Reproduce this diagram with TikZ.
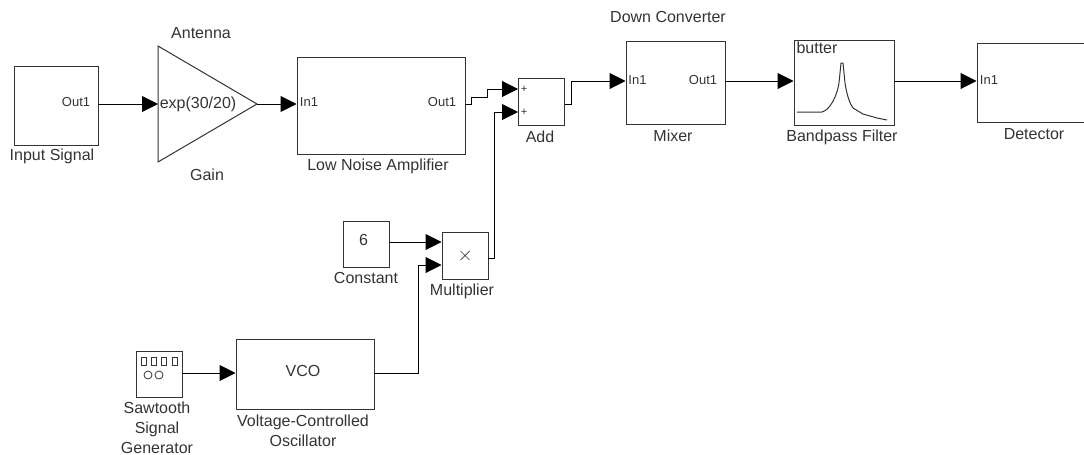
\documentclass[tikz,border=0pt]{standalone}
\usepackage{fontspec}
\setmainfont{Liberation Sans}
\usetikzlibrary{arrows.meta,shapes.geometric}
\definecolor{ink}{HTML}{333333}
\tikzset{
  blockbox/.style={draw=ink,line width=1pt,inner sep=0pt,outer sep=0pt,anchor=north west},
  wire/.style={draw=black,line width=1pt,-{Triangle[length=16pt,width=16pt]}},
  capt/.style={inner sep=0pt,font=\fontsize{16}{20}\selectfont,align=center,text=ink},
  portlabel/.style={inner sep=0pt,font=\fontsize{13}{14}\selectfont,text=ink}
}
\newcommand{\blk}[5]{\node[blockbox,minimum width=#4pt,minimum height=#5pt] (#1) at (#2,#3) {};}
\begin{document}
\begin{tikzpicture}[x=1pt,y=-1pt]
\useasboundingbox (0,0) rectangle (1084,455);
% blocks
\blk{input}{14}{66}{84}{79}
\node[draw=ink,line width=1pt,isosceles triangle,isosceles triangle stretches,shape border rotate=0,minimum width=116pt,minimum height=99pt,inner sep=0pt,outer sep=0pt,anchor=apex] (gain) at (257,104) {};
\blk{lna}{297}{57}{168}{97}
\blk{add}{518.5}{78}{46}{47}
\blk{mixer}{626}{41}{99}{83}
\blk{filter}{794}{40}{100}{85}
\blk{detector}{977}{43}{120}{79}
\blk{constant}{343}{221}{46}{46}
\blk{mult}{442}{232}{46}{47}
\blk{saw}{136}{351}{46}{46}
\blk{vco}{236}{339}{138}{70}
% ports
\coordinate (inputOut) at (98,104);
\coordinate (gainIn) at (158,104);
\coordinate (gainOut) at (257,104);
\coordinate (lnaIn) at (296.5,104);
\coordinate (lnaOut) at (465,104);
\coordinate (addInA) at (518,89);
\coordinate (addInB) at (518,112);
\coordinate (addOut) at (564.5,104);
\coordinate (mixIn) at (625.5,81);
\coordinate (mixOut) at (725,81);
\coordinate (filtIn) at (793.5,81);
\coordinate (filtOut) at (894,81);
\coordinate (detIn) at (976.5,81);
\coordinate (constOut) at (389,242);
\coordinate (multInA) at (441.5,242);
\coordinate (multInB) at (441.5,265);
\coordinate (multOut) at (488,258);
\coordinate (sawOut) at (182,373);
\coordinate (vcoIn) at (235.5,373);
\coordinate (vcoOut) at (374,373);
% connectors
\draw[wire] (inputOut) -- (gainIn);
\draw[wire] (gainOut) -- (lnaIn);
\draw[wire] (lnaOut) -- (471,104) -- (471,97) -- (487,97) -- (487,89) -- (addInA);
\draw[wire] (addOut) -- (571,104) -- (571,81) -- (mixIn);
\draw[wire] (mixOut) -- (filtIn);
\draw[wire] (filtOut) -- (detIn);
\draw[wire] (constOut) -- (multInA);
\draw[wire] (multOut) -- (494.5,258) -- (494.5,112) -- (addInB);
\draw[wire] (sawOut) -- (vcoIn);
\draw[wire] (vcoOut) -- (418,373) -- (418,265) -- (multInB);
% block contents
\node[portlabel] (t1) at (76,102) {Out1};
\node[inner sep=0pt,font=\fontsize{16}{18}\selectfont,text=ink] (t2) at (198,104) {exp(30/20)};
\node[portlabel] (t3) at (309,102) {In1};
\node[portlabel] (t4) at (442,102) {Out1};
\node[portlabel] (t5) at (637.5,80) {In1};
\node[portlabel] (t6) at (703,80) {Out1};
\node[portlabel] (t7) at (989,80) {In1};
\node[capt] (t8) at (817,48) {butter};
\node[capt] (t9) at (363.5,240) {6};
\node[capt] (t10) at (303,371) {VCO};
\node[portlabel,font=\fontsize{11}{12}\selectfont] (p1) at (524,89) {+};
\node[portlabel,font=\fontsize{11}{12}\selectfont] (p2) at (524,112) {+};
\draw[ink,line width=.7pt] (mult.center) ++(-4.5,-4.5) -- ++(9,9) ++(-9,0) -- ++(9,-9);
% filter response
\draw[ink,line width=1pt] (797,112) -- (822,112) .. controls (830,110) and (837,96) .. (839,83) -- (841,63) -- (843,63) -- (845,83) .. controls (847,96) and (850,104) .. (853,108) -- (863,114) -- (877,118) -- (887,120);
% generator icon
\foreach \x in {141,151.5,161.5,172} \draw[ink,line width=1pt] (\x,357.5) rectangle ++(5,8);
\draw[ink,line width=.8pt] (148,375) circle (4);
\draw[ink,line width=.8pt] (159,375) circle (4);
% captions
\node[capt] (c1) at (52,156) {Input Signal};
\node[capt] (c2) at (201,33) {Antenna};
\node[capt] (c3) at (207,175) {Gain};
\node[capt] (c4) at (378,166) {Low Noise Amplifier};
\node[capt] (c5) at (540,137) {Add};
\node[capt] (c6) at (668,17) {Down Converter};
\node[capt] (c7) at (673,136) {Mixer};
\node[capt] (c8) at (842,137) {Bandpass Filter};
\node[capt] (c9) at (1034,134) {Detector};
\node[capt] (c10) at (366,278) {Constant};
\node[capt] (c11) at (462,291) {Multiplier};
\node[capt] (c12) at (157,427.5) {Sawtooth\\Signal\\Generator};
\node[capt] (c13) at (303,431) {Voltage-Controlled\\Oscillator};
\end{tikzpicture}
\end{document}
